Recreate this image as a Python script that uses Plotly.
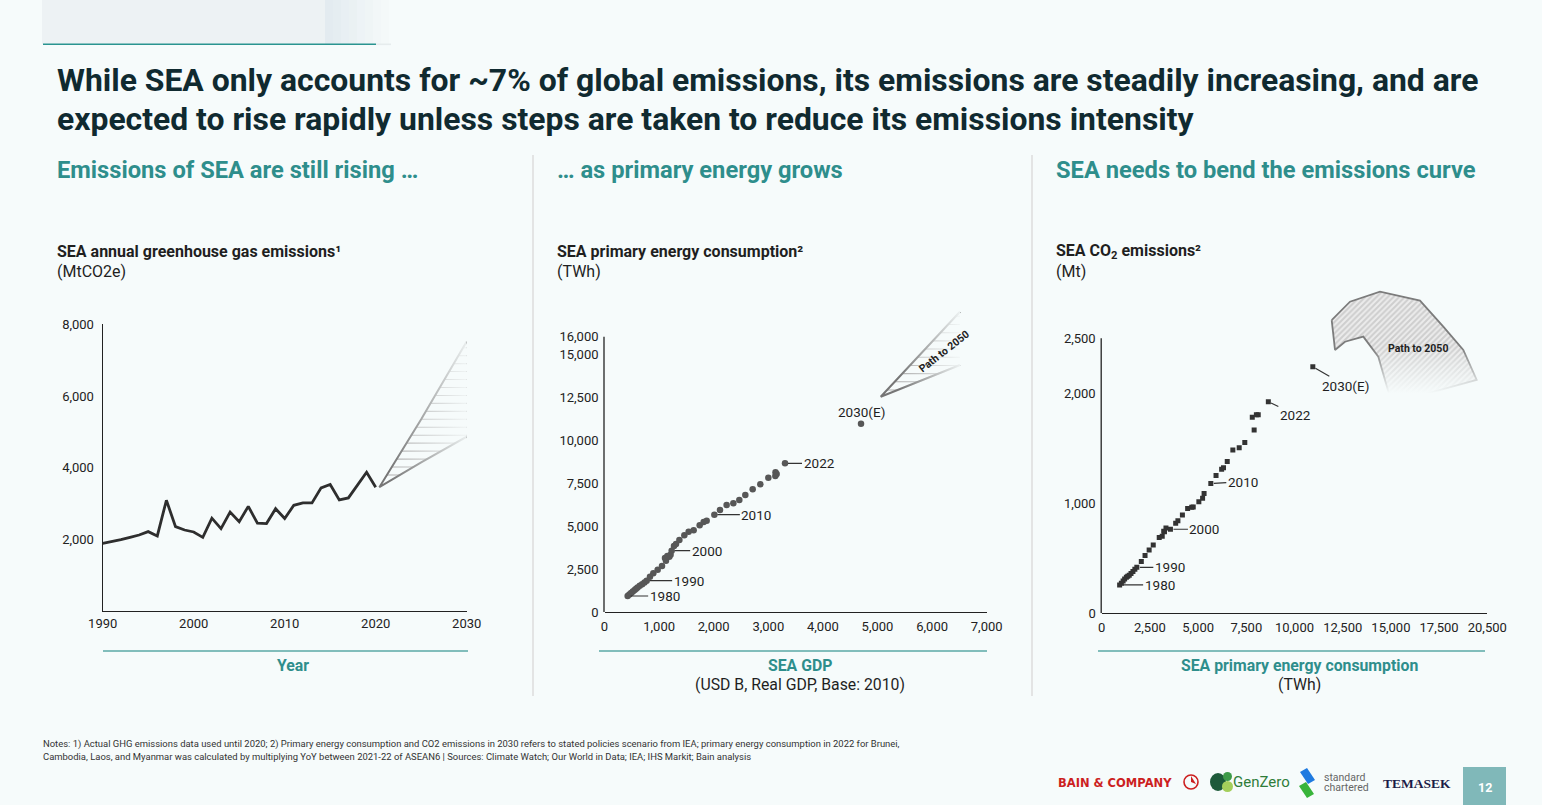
import numpy as np
import plotly.graph_objects as go

W, H = 1542, 805
BG = "#f6fbfb"
BG_RGB = "246,251,251"
TEAL = "#2e8e8c"
INK = "#1f1f1f"
TITLE_INK = "#102a30"

# ---------------- data ----------------
# Left: SEA annual GHG emissions (MtCO2e)
ghg_years = list(range(1990, 2021))
ghg_mtco2e = [1890, 1935, 1990, 2055, 2120, 2215, 2095, 3090, 2355, 2260,
              2205, 2055, 2590, 2300, 2760, 2490, 2920, 2450, 2440, 2855,
              2580, 2950, 3015, 3015, 3435, 3530, 3100, 3155, 3500, 3870,
              3455]
ghg_tick_years = [1990, 2000, 2010, 2020, 2030]
ghg_tick_vals = [2000, 4000, 6000, 8000]
# Left "path" wedge (year, MtCO2e)
ghg_path_upper_years = [2020.4, 2025, 2030]
ghg_path_upper_vals = [3455, 5350, 7520]
ghg_path_lower_years = [2020.4, 2025, 2030]
ghg_path_lower_vals = [3455, 4150, 4865]

# Middle / right: 1980-2022
energy_years = list(range(1980, 2023))
gdp_usd_b = [424, 455, 487, 519, 552, 578, 606, 645, 690, 732,
             772, 833, 894, 974, 1053, 1126, 1187, 1210, 1108, 1151,
             1230, 1273, 1310, 1371, 1462, 1541, 1633, 1743, 1816, 1871,
             2012, 2115, 2237, 2360, 2469, 2579, 2714, 2854, 3001, 3132,
             3129, 3153, 3306]
energy_twh = [930, 1020, 1110, 1190, 1280, 1350, 1430, 1520, 1620, 1720,
              1822, 2055, 2248, 2461, 2674, 2984, 3217, 3333, 3140, 3256,
              3566, 3837, 3953, 4186, 4457, 4670, 4748, 5039, 5233, 5310,
              5659, 5930, 6221, 6318, 6512, 6802, 7132, 7422, 7810, 8120,
              7907, 8023, 8643]
co2_mt = [258, 273, 294, 312, 327, 336, 345, 361, 379, 400,
          418, 470, 525, 575, 620, 690, 745, 775, 700, 742,
          764, 818, 842, 894, 952, 964, 967, 1015, 1045, 1088,
          1179, 1252, 1309, 1324, 1379, 1485, 1506, 1552, 1782, 1806,
          1667, 1806, 1924]
est_label = "2030(E)"
gdp_2030 = 4698
energy_2030 = 10950
co2_2030 = 2242

energy_tick_vals = [0, 2500, 5000, 7500, 10000, 12500, 15000, 16000]
gdp_tick_vals = [0, 1000, 2000, 3000, 4000, 5000, 6000, 7000]
co2_tick_vals = [0, 1000, 2000, 2500]
co2_x_tick_vals = [0, 2500, 5000, 7500, 10000, 12500, 15000, 17500, 20000]
co2_x_tick_text = ["0", "2,500", "5,000", "7,500", "10,000", "12,500",
                   "15,000", "17,500", "20,500"]

# Middle "path" wedge (GDP, TWh)
energy_path_upper_gdp = [5059, 6511]
energy_path_upper_twh = [12517, 17459]
energy_path_lower_gdp = [5059, 6511]
energy_path_lower_twh = [12517, 14360]

# Right "path" band (TWh, Mt)
co2_band_upper_twh = [11929, 12878, 14434, 16509, 17718, 18755, 19450]
co2_band_upper_mt = [2666, 2833, 2924, 2842, 2606, 2394, 2121]
co2_band_lower_twh = [12101, 12619, 13569, 14347, 14694, 15041]
co2_band_lower_mt = [2394, 2469, 2515, 2333, 2121, 1909]

labelled_years = [1980, 1990, 2000, 2010, 2022]


def px(x):
    return x / W


def py(y):
    return 1 - y / H


fig = go.Figure()


def hatch(up_x, up_y, lo_x, lo_y, step, first_offset):
    xs, ys = [], []
    top = max(up_y)
    lo_top = max(lo_y)
    right = max(max(up_x), max(lo_x))
    for v in np.arange(min(up_y) + first_offset, top, step):
        xl = float(np.interp(v, up_y, up_x))
        xr = float(np.interp(v, lo_y, lo_x)) if v <= lo_top else right
        xs += [xl, xr, None]
        ys += [v, v, None]
    return xs, ys


def fade_rect(xs, ys, axx, axy, gtype, start, stop, alpha):
    x0, x1 = min(xs), max(xs)
    y0, y1 = min(ys), max(ys)
    return go.Scatter(
        x=[x0, x1, x1, x0, x0], y=[y0, y0, y1, y1, y0], mode="none",
        fill="toself",
        fillgradient=dict(type=gtype, start=start, stop=stop,
                          colorscale=[[0, f"rgba({BG_RGB},0)"],
                                      [1, f"rgba({BG_RGB},{alpha})"]]),
        hoverinfo="skip", showlegend=False, xaxis=axx, yaxis=axy)


# ---------- left chart ----------
hx, hy = hatch(ghg_path_upper_years, ghg_path_upper_vals,
               ghg_path_lower_years, ghg_path_lower_vals, 222, 340)
fig.add_trace(go.Scatter(x=hx, y=hy, mode="lines",
                         line=dict(color="#b0b0b0", width=1.1),
                         hoverinfo="skip", showlegend=False, xaxis="x", yaxis="y"))
fig.add_trace(go.Scatter(
    x=ghg_path_upper_years[::-1] + ghg_path_lower_years[1:],
    y=ghg_path_upper_vals[::-1] + ghg_path_lower_vals[1:],
    mode="lines", line=dict(color="#767676", width=2),
    hoverinfo="skip", showlegend=False, xaxis="x", yaxis="y"))
fig.add_trace(fade_rect(ghg_path_upper_years + ghg_path_lower_years,
                        [v - 60 for v in ghg_path_lower_vals] + [v + 60 for v in ghg_path_upper_vals],
                        "x", "y", "horizontal", 2021.5, 2030, 0.9))
fig.add_trace(go.Scatter(x=ghg_years, y=ghg_mtco2e, mode="lines",
                         line=dict(color="#2e2e2e", width=2.8),
                         showlegend=False, xaxis="x", yaxis="y"))

# ---------- middle chart ----------
hx, hy = hatch(energy_path_upper_gdp, energy_path_upper_twh,
               energy_path_lower_gdp, energy_path_lower_twh, 476, 390)
fig.add_trace(go.Scatter(x=hx, y=hy, mode="lines",
                         line=dict(color="#b0b0b0", width=1.1),
                         hoverinfo="skip", showlegend=False, xaxis="x2", yaxis="y2"))
fig.add_trace(go.Scatter(
    x=energy_path_upper_gdp[::-1] + energy_path_lower_gdp[1:],
    y=energy_path_upper_twh[::-1] + energy_path_lower_twh[1:],
    mode="lines", line=dict(color="#767676", width=2),
    hoverinfo="skip", showlegend=False, xaxis="x2", yaxis="y2"))
fig.add_trace(fade_rect(energy_path_upper_gdp + energy_path_lower_gdp,
                        [v - 200 for v in energy_path_lower_twh] + [v + 200 for v in energy_path_upper_twh],
                        "x2", "y2", "horizontal", 5400, 6511, 0.92))
fig.add_trace(go.Scatter(x=gdp_usd_b + [gdp_2030], y=energy_twh + [energy_2030],
                         mode="markers",
                         marker=dict(color="#575757", size=6.5, line=dict(width=0)),
                         showlegend=False, xaxis="x2", yaxis="y2"))

# ---------- right chart ----------
fig.add_trace(go.Scatter(
    x=co2_band_upper_twh + co2_band_lower_twh[::-1] + [co2_band_upper_twh[0]],
    y=co2_band_upper_mt + co2_band_lower_mt[::-1] + [co2_band_upper_mt[0]],
    mode="lines", fill="toself",
    line=dict(color="#7c7c7c", width=1.8),
    fillpattern=dict(shape="/", fgcolor="#b0b0b0", bgcolor="#ececec",
                     size=4, solidity=0.5),
    hoverinfo="skip", showlegend=False, xaxis="x3", yaxis="y3"))
fig.add_trace(go.Scatter(
    x=[min(co2_band_lower_twh) - 400, max(co2_band_upper_twh) + 600,
       max(co2_band_upper_twh) + 600, min(co2_band_lower_twh) - 400,
       min(co2_band_lower_twh) - 400],
    y=[min(co2_band_lower_mt) - 80, min(co2_band_lower_mt) - 80,
       2420, 2420, min(co2_band_lower_mt) - 80],
    mode="none", fill="toself",
    fillgradient=dict(type="vertical", start=2000, stop=2420,
                      colorscale=[[0, f"rgba({BG_RGB},1)"],
                                  [1, f"rgba({BG_RGB},0)"]]),
    hoverinfo="skip", showlegend=False, xaxis="x3", yaxis="y3"))
fig.add_trace(go.Scatter(x=energy_twh + [energy_2030], y=co2_mt + [co2_2030],
                         mode="markers",
                         marker=dict(color="#333333", size=5, symbol="square",
                                     line=dict(width=0)),
                         showlegend=False, xaxis="x3", yaxis="y3"))

# ---------- axes ----------
tickfont = dict(family="Roboto, Arial", size=13, color="#222")
common = dict(showgrid=False, zeroline=False, ticks="", tickfont=tickfont,
              linecolor="#222", linewidth=1.3, fixedrange=True, automargin=False)

DOM_L_X = [px(102.7), px(466.7)]
DOM_L_Y = [py(611), py(324.3)]
DOM_M_X = [px(604.5), px(986.7)]
DOM_M_Y = [py(612), py(302.4)]
DOM_R_X = [px(1101.7), px(1487.3)]
DOM_R_Y = [py(613.3), py(283.3)]

fig.update_layout(
    xaxis=dict(domain=DOM_L_X, range=[1990, 2030], tickvals=ghg_tick_years,
               showline=True, anchor="y", ticklabelstandoff=0, **common),
    yaxis=dict(domain=DOM_L_Y, range=[0, 8000], tickvals=ghg_tick_vals,
               tickformat=",", showline=True, anchor="x", ticklabelstandoff=5, **common),
    xaxis2=dict(domain=DOM_M_X, range=[0, 7000], tickvals=gdp_tick_vals,
                tickformat=",", showline=True, anchor="y2", ticklabelstandoff=2, **common),
    yaxis2=dict(domain=DOM_M_Y, range=[0, 18000], tickvals=energy_tick_vals,
                tickformat=",", showline=False, anchor="x2", ticklabelstandoff=5, **common),
    xaxis3=dict(domain=DOM_R_X, range=[0, 20000], tickvals=co2_x_tick_vals,
                ticktext=co2_x_tick_text, showline=True, anchor="y3",
                ticklabelstandoff=2, **common),
    yaxis3=dict(domain=DOM_R_Y, range=[0, 3000], tickvals=co2_tick_vals,
                tickformat=",", showline=False, anchor="x3", ticklabelstandoff=5, **common),
)

shapes = []
# y-axis lines drawn only up to the top tick
shapes.append(dict(type="line", xref="paper", yref="y2", x0=DOM_M_X[0] - 0.5 / W,
                   x1=DOM_M_X[0] - 0.5 / W, y0=0, y1=max(energy_tick_vals),
                   line=dict(color="#222", width=1.3), layer="above"))
shapes.append(dict(type="line", xref="paper", yref="y3", x0=DOM_R_X[0] - 0.5 / W,
                   x1=DOM_R_X[0] - 0.5 / W, y0=0, y1=max(co2_tick_vals),
                   line=dict(color="#222", width=1.3), layer="above"))
# section separators
for sx in (533, 1032):
    shapes.append(dict(type="line", xref="paper", yref="paper", x0=px(sx), x1=px(sx),
                       y0=py(155), y1=py(696), line=dict(color="#dcdcdc", width=1.5)))
# teal rules above axis titles
for a, b in ((103, 468), (599, 987), (1098, 1485)):
    shapes.append(dict(type="line", xref="paper", yref="paper", x0=px(a), x1=px(b),
                       y0=py(651), y1=py(651), line=dict(color="#5aa9a6", width=1.3)))
# header band
shapes.append(dict(type="rect", xref="paper", yref="paper", x0=px(42), x1=px(325),
                   y0=py(44), y1=py(0), fillcolor="#edf2f4", line=dict(width=0), layer="below"))
for i, a in enumerate(np.linspace(0.9, 0.1, 8)):
    shapes.append(dict(type="rect", xref="paper", yref="paper", x0=px(325 + i * 8),
                       x1=px(333 + i * 8), y0=py(44), y1=py(0),
                       fillcolor=f"rgba(225,233,238,{a:.2f})", line=dict(width=0), layer="below"))
shapes.append(dict(type="line", xref="paper", yref="paper", x0=px(43), x1=px(376),
                   y0=py(44.3), y1=py(44.3), line=dict(color="#2a9490", width=1.6)))
shapes.append(dict(type="line", xref="paper", yref="paper", x0=px(376), x1=px(391),
                   y0=py(44.3), y1=py(44.3), line=dict(color="#e6eced", width=1.6)))
# page number box
shapes.append(dict(type="rect", xref="paper", yref="paper", x0=px(1463), x1=px(1506),
                   y0=py(805), y1=py(767), fillcolor="#80b8b9", line=dict(width=0)))
# logo marks
shapes.append(dict(type="circle", xref="paper", yref="paper", x0=px(1184), x1=px(1198),
                   y0=py(789), y1=py(775), line=dict(color="#cc1f1f", width=1.6)))
shapes.append(dict(type="path", xref="paper", yref="paper",
                   path=f"M {px(1191)},{py(782)} L {px(1196)},{py(784)} L {px(1191)},{py(776)} Z",
                   fillcolor="#cc1f1f", line=dict(width=0)))
shapes.append(dict(type="circle", xref="paper", yref="paper", x0=px(1210), x1=px(1226),
                   y0=py(791), y1=py(773), fillcolor="#1d5a3a", line=dict(width=0)))
shapes.append(dict(type="circle", xref="paper", yref="paper", x0=px(1223), x1=px(1232),
                   y0=py(781), y1=py(772), fillcolor="#3d9a48", line=dict(width=0)))
shapes.append(dict(type="circle", xref="paper", yref="paper", x0=px(1222), x1=px(1233),
                   y0=py(792), y1=py(781), fillcolor="#a4cf5b", line=dict(width=0)))
shapes.append(dict(type="path", xref="paper", yref="paper",
                   path=f"M {px(1300)},{py(772)} L {px(1307)},{py(768)} L {px(1315)},{py(780)} "
                        f"L {px(1308)},{py(784)} Z",
                   fillcolor="#1f7ae0", line=dict(width=0)))
shapes.append(dict(type="path", xref="paper", yref="paper",
                   path=f"M {px(1299)},{py(786)} L {px(1306)},{py(782)} L {px(1314)},{py(794)} "
                        f"L {px(1307)},{py(798)} Z",
                   fillcolor="#38b43a", line=dict(width=0)))
fig.update_layout(shapes=shapes)

ann = []


def text(x, y, s, size, color=INK, bold=False, xanchor="left", family="Roboto, Arial", angle=0):
    ann.append(dict(xref="paper", yref="paper", x=px(x), y=py(y), xanchor=xanchor,
                    yanchor="middle", showarrow=False, textangle=angle,
                    text=f"<b>{s}</b>" if bold else s,
                    font=dict(family=family, size=size, color=color)))


text(55, 80, "While SEA only accounts for ~7% of global emissions, its emissions are steadily increasing, and are",
     31.9, TITLE_INK, True)
text(55, 119, "expected to rise rapidly unless steps are taken to reduce its emissions intensity",
     31.9, TITLE_INK, True)
text(55, 170, "Emissions of SEA are still rising …", 23.7, TEAL, True)
text(555, 170, "… as primary energy grows", 23.7, TEAL, True)
text(1054, 170, "SEA needs to bend the emissions curve", 23.7, TEAL, True)

text(55, 252, "SEA annual greenhouse gas emissions¹", 16, INK, True)
text(55, 271, "(MtCO2e)", 16, INK)
text(555, 252, "SEA primary energy consumption²", 16, INK, True)
text(555, 271, "(TWh)", 16, INK)
text(1054, 252, "SEA CO<sub>2</sub> emissions²", 16, INK, True)
text(1054, 271, "(Mt)", 16, INK)

text(293, 665, "Year", 15.8, TEAL, True, "center")
text(800, 665, "SEA GDP", 15.8, TEAL, True, "center")
text(800, 684, "(USD B, Real GDP, Base: 2010)", 15.8, INK, False, "center")
text(1299, 665, "SEA primary energy consumption", 15.8, TEAL, True, "center")
text(1299, 684, "(TWh)", 15.8, INK, False, "center")

text(41, 744, "Notes: 1) Actual GHG emissions data used until 2020; 2) Primary energy consumption and CO2 emissions in 2030 "
     "refers to stated policies scenario from IEA; primary energy consumption in 2022 for Brunei,", 9.45, "#333")
text(41, 756, "Cambodia, Laos, and Myanmar was calculated by multiplying YoY between 2021-22 of ASEAN6 | Sources: "
     "Climate Watch; Our World in Data; IEA; IHS Markit; Bain analysis", 9.45, "#333")

text(1115, 783, "BAIN &amp; COMPANY", 11.5, "#cc1f1f", True, "center", "DejaVu Sans")
text(1231, 782, "GenZero", 15, "#2f7d3a", False, "left")
text(1322, 777, "standard", 10.5, "#666", False, "left")
text(1322, 787, "chartered", 10.5, "#666", False, "left")
text(1417, 783, "TEMASEK", 13.5, "#1c1c48", True, "center", "Liberation Serif")
text(1485, 787, "12", 12.5, "#ffffff", True, "center")

LBL = dict(family="Roboto, Arial", size=13.5, color=INK)
# data labels, middle chart
mid_offsets = {1980: 37, 1990: 42, 2000: 35, 2010: 42, 2022: 34}
for yr in labelled_years:
    i = energy_years.index(yr)
    ann.append(dict(xref="x2", yref="y2", x=gdp_usd_b[i], y=energy_twh[i], text=str(yr),
                    showarrow=True, arrowhead=0, arrowwidth=1.2, arrowcolor="#333",
                    ax=mid_offsets[yr], ay=0, standoff=3, font=LBL))
ann.append(dict(xref="x2", yref="y2", x=gdp_2030, y=energy_2030, text=est_label,
                showarrow=False, yshift=12, yanchor="middle", font=LBL))
ann.append(dict(xref="x2", yref="y2", x=6218, y=15134, text="<b>Path to 2050</b>",
                showarrow=False, textangle=-38,
                font=dict(family="Roboto, Arial", size=10.5, color="#222")))

# data labels, right chart
right_offsets = {1980: (40, 0), 1990: (33, 0), 2000: (34, 0), 2010: (32, -2), 2022: (27, 13)}
for yr in labelled_years:
    i = energy_years.index(yr)
    dx, dy = right_offsets[yr]
    ann.append(dict(xref="x3", yref="y3", x=energy_twh[i], y=co2_mt[i], text=str(yr),
                    showarrow=True, arrowhead=0, arrowwidth=1.2, arrowcolor="#333",
                    ax=dx, ay=dy, standoff=3, font=LBL))
ann.append(dict(xref="x3", yref="y3", x=energy_2030, y=co2_2030, text=est_label,
                showarrow=True, arrowhead=0, arrowwidth=1.2, arrowcolor="#333",
                ax=33, ay=19, standoff=3, font=LBL))
ann.append(dict(xref="x3", yref="y3", x=16406, y=2403, text="<b>Path to 2050</b>",
                showarrow=False,
                font=dict(family="Roboto, Arial", size=10.5, color="#222")))

fig.update_layout(
    annotations=ann,
    width=W, height=H, autosize=False,
    margin=dict(l=0, r=0, t=0, b=0, pad=0, autoexpand=False),
    paper_bgcolor=BG, plot_bgcolor="rgba(0,0,0,0)",
    showlegend=False,
    font=dict(family="Roboto, Arial", color=INK),
)

fig.write_html(
    "out.html",
    config={"responsive": False, "displayModeBar": False},
    post_script="document.body.style.margin='0';document.body.style.padding='0';"
                "document.body.style.overflow='hidden';"
                "document.documentElement.style.overflow='hidden';",
)
